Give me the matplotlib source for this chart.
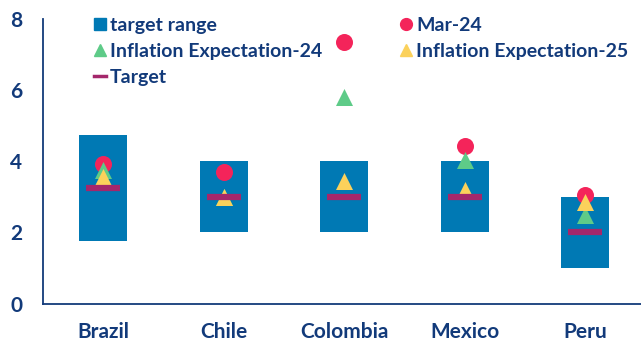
import matplotlib.pyplot as plt
from matplotlib.lines import Line2D
import numpy as np

# data
countries = ["Brazil", "Chile", "Colombia", "Mexico", "Peru"]
range_low = [1.75, 2.0, 2.0, 2.0, 1.0]
range_high = [4.75, 4.0, 4.0, 4.0, 3.0]
target = [3.25, 3.0, 3.0, 3.0, 2.0]
mar24 = [3.93, 3.70, 7.36, 4.42, 3.05]
exp24 = [3.75, 3.0, 5.8, 4.05, 2.5]
exp25 = [3.55, 3.0, 3.45, 3.2, 2.85]
yticks = [0, 2, 4, 6, 8]

# colours
c_range = "#0079B4"
c_mar = "#F4245A"
c_exp24 = "#5ECB88"
c_exp25 = "#FBD15B"
c_target = "#A4276B"
c_text = "#123A7A"

plt.rcParams['font.family'] = ['Lato', 'DejaVu Sans']

fig = plt.figure(figsize=(6.41, 3.45), dpi=100)
ax = fig.add_axes([0.067, 0.12, 0.94, 0.825])

x = np.arange(len(countries))
heights = np.array(range_high) - np.array(range_low)

# target range boxes
ax.bar(x, heights, bottom=range_low, width=0.4, color=c_range, zorder=1)
# markers (circle under triangles, target bar on top)
ax.scatter(x, mar24, s=150, marker='o', color=c_mar, zorder=2, linewidths=0)
ax.scatter(x, exp24, s=150, marker='^', color=c_exp24, zorder=3, linewidths=0)
ax.scatter(x, exp25, s=150, marker='^', color=c_exp25, zorder=4, linewidths=0)
ax.plot(x, target, linestyle='none', marker='_', markersize=24.5,
        markeredgewidth=4.5, color=c_target, zorder=5)

ax.set_xlim(-0.5, 4.5)
ax.set_ylim(0, 8)
ax.set_xticks(x)
ax.set_xticklabels(countries)
ax.set_yticks(yticks)
ax.tick_params(axis='both', length=0, labelsize=15, labelcolor=c_text)
ax.tick_params(axis='y', pad=15)
ax.tick_params(axis='x', pad=13)
for lab in ax.get_xticklabels() + ax.get_yticklabels():
    lab.set_fontweight('bold')

for side in ['top', 'right']:
    ax.spines[side].set_visible(False)
ax.spines['left'].set_color(c_text)
ax.spines['bottom'].set_color(c_text)
ax.spines['left'].set_linewidth(1.3)
ax.spines['bottom'].set_linewidth(1.3)

# legend with proxy handles
handles = [
    Line2D([], [], linestyle='none', marker='s', markersize=8.5, color=c_range),
    Line2D([], [], linestyle='none', marker='^', markersize=8.5, color=c_exp24),
    Line2D([], [], color=c_target, linewidth=2.5),
    Line2D([], [], linestyle='none', marker='o', markersize=8.5, color=c_mar),
    Line2D([], [], linestyle='none', marker='^', markersize=8.5, color=c_exp25),
]
labels = ["target range", "Inflation Expectation-24", "Target",
          "Mar-24", "Inflation Expectation-25"]
leg = fig.legend(handles, labels, ncol=2, loc='upper left',
                 bbox_to_anchor=(0.147, 0.950), frameon=False,
                 prop={'size': 14, 'weight': 'bold'},
                 handlelength=0.6, handletextpad=0.22, columnspacing=4.0,
                 labelspacing=0.46, borderpad=0, borderaxespad=0)
for t in leg.get_texts():
    t.set_color(c_text)

fig.savefig("out.png", dpi=100)
